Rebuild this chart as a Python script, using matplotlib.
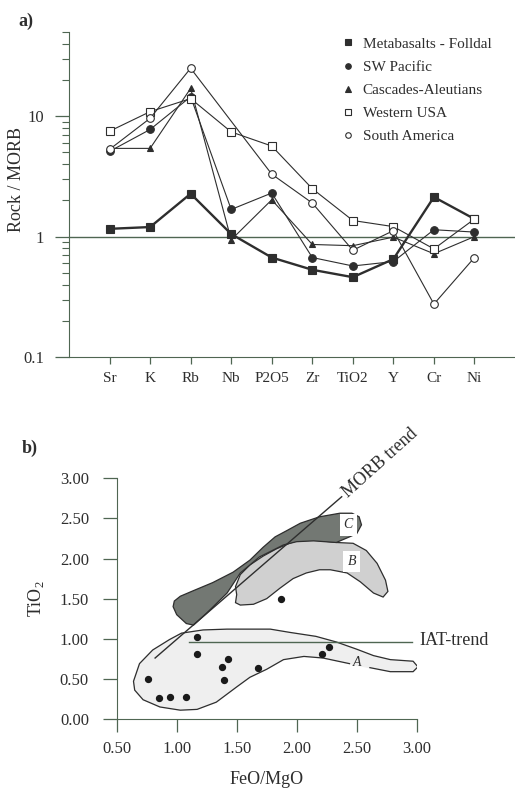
import numpy as np
import matplotlib
matplotlib.use('Agg')
import matplotlib.pyplot as plt
from matplotlib.lines import Line2D

plt.rcParams['font.family'] = ['Liberation Serif', 'DejaVu Serif']
plt.rcParams['mathtext.fontset'] = 'custom'
plt.rcParams['mathtext.rm'] = 'Liberation Serif'

# ---- panel a data (Rock / MORB) ----
elements = ['Sr', 'K', 'Rb', 'Nb', 'P2O5', 'Zr', 'TiO2', 'Y', 'Cr', 'Ni']
folldal = [1.16, 1.20, 2.27, 1.05, 0.67, 0.53, 0.46, 0.65, 2.13, 1.40]
sw_pacific = [5.1, 7.75, 14.5, 1.68, 2.3, 0.67, 0.57, 0.62, 1.14, 1.09]
cascades = [5.4, 5.4, 17.0, 0.94, 2.02, 0.86, 0.84, 0.99, 0.72, 1.0]
western_usa = [7.5, 10.9, 14.0, 7.4, 5.65, 2.5, 1.36, 1.21, 0.79, 1.40]
south_america = [5.3, 9.6, 25.0, np.nan, 3.3, 1.9, 0.77, 1.12, 0.275, 0.67]

# ---- panel b data ----
feo_mgo = [0.76, 0.85, 0.94, 1.075, 1.17, 1.17, 1.38, 1.43, 1.39, 1.675, 1.87, 2.21, 2.27]
tio2 = [0.50, 0.26, 0.28, 0.28, 1.02, 0.81, 0.645, 0.745, 0.49, 0.63, 1.50, 0.81, 0.90]

field_a_x = [2.61, 2.78, 2.97, 3.01, 2.97, 2.78, 2.64, 2.50, 2.33, 2.16, 1.94, 1.78, 1.61,
             1.42, 1.22, 1.04, 0.94, 0.80, 0.69, 0.64, 0.65, 0.72, 0.86, 1.03, 1.17, 1.33,
             1.50, 1.61, 1.75, 1.89, 2.06, 2.22, 2.44]
field_a_y = [0.64, 0.59, 0.59, 0.65, 0.72, 0.74, 0.79, 0.87, 0.96, 1.03, 1.08, 1.12, 1.12,
             1.12, 1.11, 1.07, 0.99, 0.86, 0.69, 0.47, 0.36, 0.24, 0.15, 0.11, 0.12, 0.21,
             0.40, 0.52, 0.62, 0.74, 0.78, 0.76, 0.69]
field_b_x = [1.49, 1.50, 1.49, 1.53, 1.61, 1.72, 1.83, 1.94, 2.00, 2.15, 2.33, 2.47, 2.58,
             2.67, 2.74, 2.76, 2.72, 2.64, 2.53, 2.42, 2.28, 2.19, 2.08, 1.97, 1.86, 1.75,
             1.64, 1.53]
field_b_y = [1.45, 1.55, 1.65, 1.80, 1.92, 2.03, 2.12, 2.19, 2.22, 2.23, 2.20, 2.19, 2.10,
             1.94, 1.73, 1.59, 1.52, 1.57, 1.71, 1.82, 1.86, 1.86, 1.82, 1.75, 1.63, 1.50,
             1.43, 1.42]
field_c_x = [0.97, 0.98, 1.03, 1.14, 1.30, 1.47, 1.61, 1.72, 1.82, 1.92, 2.03, 2.19, 2.36,
             2.46, 2.52, 2.54, 2.50, 2.44, 2.33, 2.14, 2.00, 1.89, 1.69, 1.53, 1.42, 1.25,
             1.14, 1.08, 1.00]
field_c_y = [1.40, 1.47, 1.53, 1.60, 1.70, 1.83, 1.98, 2.14, 2.27, 2.35, 2.44, 2.52, 2.565,
             2.565, 2.52, 2.42, 2.31, 2.27, 2.20, 2.22, 2.21, 2.17, 2.02, 1.82, 1.57, 1.32,
             1.17, 1.19, 1.30]
morb_x = [0.82, 2.375]
morb_y = [0.76, 2.77]
iat_x = [1.10, 2.96]
iat_y = [0.965, 0.965]

ink = '#2e2e2e'
axc = '#4f6652'

fig = plt.figure(figsize=(5.15, 7.88), dpi=100)

# ---------------- panel a ----------------
ax = fig.add_axes([69/515, 1-357/788, 446/515, 325/788])
xi = np.arange(len(elements))
series = [
    ('Metabasalts - Folldal', folldal, 's', ink, 1.7, 5.5),
    ('SW Pacific', sw_pacific, 'o', ink, 0.8, 5.5),
    ('Cascades-Aleutians', cascades, '^', ink, 0.8, 5),
    ('Western USA', western_usa, 's', 'white', 0.8, 5.5),
    ('South America', south_america, 'o', 'white', 0.8, 5.5),
]
handles = []
for name, vals, mk, fc, lw, ms in series:
    v = np.array(vals, dtype=float)
    ok = ~np.isnan(v)
    ax.plot(xi[ok], v[ok], color=ink, lw=lw, marker=mk, ms=ms,
            mfc=fc, mec=ink, mew=0.8, zorder=3)
    handles.append(Line2D([], [], ls='none', marker=mk, ms=4, mfc=fc, mec=ink,
                          mew=0.8, label=name))
ax.axhline(1, color=axc, lw=1.0, zorder=1, clip_on=False)
ax.set_yscale('log')
ax.set_ylim(0.1, 50)
ax.set_xlim(-1, 10)
ax.set_xticks(xi)
ax.set_xticklabels(elements)
ax.set_yticks([0.1, 1, 10])
ax.set_yticklabels(['0.1', '1', '10'])
for s in ['top', 'right']:
    ax.spines[s].set_visible(False)
for s in ['left', 'bottom']:
    ax.spines[s].set_color(axc)
ax.tick_params(axis='y', which='major', length=10, width=0.9, color=axc,
               labelsize=12, pad=8, labelcolor=ink)
ax.tick_params(axis='y', which='minor', length=5, width=0.8, color=axc)
ax.tick_params(axis='x', length=5, width=0.9, color=axc, labelsize=11,
               pad=6, labelcolor=ink)
fig.text(17/515, 1-180/788, 'Rock / MORB', rotation=90, fontsize=13, color=ink,
         ha='center', va='center')
leg = ax.legend(handles=handles, loc='upper left', bbox_to_anchor=(343/515, 1-37/788),
                bbox_transform=fig.transFigure, frameon=False, fontsize=11,
                handlelength=0.6, handletextpad=0.7, labelspacing=0.62,
                borderpad=0, borderaxespad=0, numpoints=1)
for t in leg.get_texts():
    t.set_color(ink)
fig.text(18/515, 1-21/788, 'a)', fontsize=13, fontweight='bold', color=ink,
         va='center', ha='left')

# ---------------- panel b ----------------
bx = fig.add_axes([116.7/515, 1-719/788, 300/515, 240.7/788])
bx.fill(field_a_x, field_a_y, color='#efefef', zorder=1)
bx.plot(field_a_x, field_a_y, color=ink, lw=0.9, zorder=2)
bx.fill(field_b_x, field_b_y, facecolor='#d0d0d0', edgecolor=ink, lw=0.9, zorder=3)
bx.fill(field_c_x, field_c_y, facecolor='#737873', edgecolor=ink, lw=0.9, zorder=4)
bx.plot(morb_x, morb_y, color=ink, lw=1.0, zorder=5, clip_on=False)
bx.plot(iat_x, iat_y, color=axc, lw=1.0, zorder=5, clip_on=False)
bx.scatter(feo_mgo, tio2, s=18, color='#1a1a1a', zorder=6)
bx.text(2.405, 2.79, 'MORB trend', rotation=42, rotation_mode='anchor', ha='left',
        va='center', fontsize=13, color=ink, clip_on=False)
bx.text(3.02, 0.975, 'IAT-trend', ha='left', va='center', fontsize=13, color=ink)
bx.text(2.50, 0.70, 'A', style='italic', fontsize=10, ha='center', va='center', color=ink, zorder=7)
bx.text(2.46, 1.96, 'B', style='italic', fontsize=10, ha='center', va='center', color=ink,
        zorder=7, bbox=dict(boxstyle='square,pad=0.3', fc='white', ec='none'))
bx.text(2.43, 2.42, 'C', style='italic', fontsize=10, ha='center', va='center', color=ink,
        zorder=7, bbox=dict(boxstyle='square,pad=0.3', fc='white', ec='none'))
bx.set_xlim(0.5, 3.0)
bx.set_ylim(0, 3.0)
bx.set_xticks([0.5, 1.0, 1.5, 2.0, 2.5, 3.0])
bx.set_yticks([0, 0.5, 1.0, 1.5, 2.0, 2.5, 3.0])
bx.xaxis.set_major_formatter(matplotlib.ticker.FormatStrFormatter('%.2f'))
bx.yaxis.set_major_formatter(matplotlib.ticker.FormatStrFormatter('%.2f'))
for s in ['top', 'right']:
    bx.spines[s].set_visible(False)
for s in ['left', 'bottom']:
    bx.spines[s].set_color(axc)
bx.tick_params(axis='y', length=10, width=0.9, color=axc, labelsize=12, pad=10,
               labelcolor=ink)
bx.tick_params(axis='x', length=9, width=0.9, color=axc, labelsize=12, pad=7,
               labelcolor=ink)
bx.set_xlabel('FeO/MgO', fontsize=13, color=ink, labelpad=10)
bx.set_ylabel('TiO$_2$', fontsize=13, color=ink, labelpad=10)
fig.text(22/515, 1-448/788, 'b)', fontsize=13, fontweight='bold', color=ink,
         va='center', ha='left')

fig.savefig('out.png', dpi=100)
